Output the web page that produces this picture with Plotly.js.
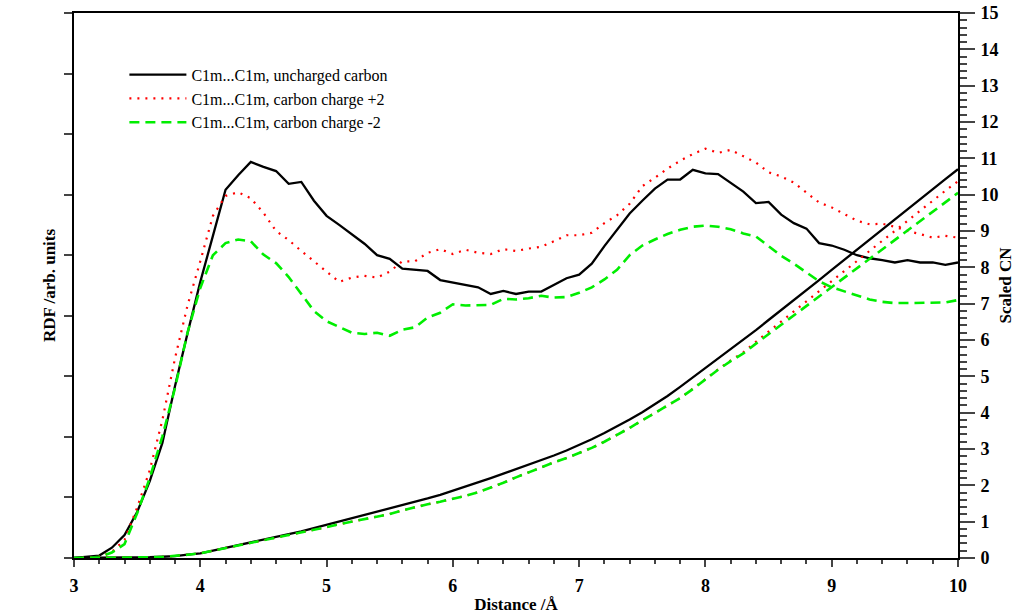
<!DOCTYPE html>
<html>
<head>
<meta charset="utf-8">
<script src="https://cdn.plot.ly/plotly-3.0.1.min.js"></script>
<style>html,body{margin:0;padding:0;background:#fff;}#chart{width:1024px;height:614px;}</style>
</head>
<body>
<div id="chart"></div>
<script>
// Distance grid (Å)
const distance = [3.0,3.1,3.2,3.3,3.4,3.5,3.6,3.7,3.8,3.9,
  4.0,4.1,4.2,4.3,4.4,4.5,4.6,4.7,4.8,4.9,
  5.0,5.1,5.2,5.3,5.4,5.5,5.6,5.7,5.8,5.9,
  6.0,6.1,6.2,6.3,6.4,6.5,6.6,6.7,6.8,6.9,
  7.0,7.1,7.2,7.3,7.4,7.5,7.6,7.7,7.8,7.9,
  8.0,8.1,8.2,8.3,8.4,8.5,8.6,8.7,8.8,8.9,
  9.0,9.1,9.2,9.3,9.4,9.5,9.6,9.7,9.8,9.9,10.0];

// RDF (arb. units, left axis)
const rdfUncharged = [0,0.02,0.04,0.17,0.38,0.76,1.27,1.90,2.84,3.72,
  4.56,5.32,6.08,6.32,6.54,6.46,6.39,6.18,6.21,5.90,
  5.65,5.50,5.35,5.19,5.00,4.94,4.78,4.76,4.74,4.59,
  4.55,4.50,4.47,4.36,4.41,4.36,4.40,4.40,4.51,4.62,
  4.68,4.86,5.15,5.42,5.69,5.90,6.10,6.25,6.25,6.41,
  6.35,6.34,6.19,6.05,5.86,5.88,5.67,5.53,5.44,5.20,
  5.16,5.09,5.00,4.95,4.92,4.88,4.92,4.88,4.88,4.84,4.88];

const rdfPlus2 = [0,0,0.02,0.10,0.30,0.83,1.45,2.28,3.30,4.18,
  4.90,5.65,5.98,6.04,5.94,5.70,5.40,5.25,5.07,4.90,
  4.74,4.56,4.63,4.66,4.63,4.73,4.90,4.90,5.04,5.10,
  5.02,5.09,5.04,5.02,5.10,5.07,5.11,5.14,5.23,5.33,
  5.33,5.37,5.53,5.66,5.85,6.14,6.28,6.43,6.56,6.67,
  6.76,6.69,6.74,6.64,6.53,6.37,6.30,6.20,6.03,5.87,
  5.79,5.68,5.57,5.51,5.52,5.47,5.40,5.35,5.29,5.32,5.29];

const rdfMinus2 = [0,0,0.02,0.09,0.23,0.74,1.32,2.01,2.81,3.73,
  4.46,5.00,5.20,5.26,5.23,5.01,4.87,4.64,4.36,4.08,
  3.91,3.81,3.72,3.70,3.72,3.67,3.77,3.81,3.97,4.05,
  4.19,4.17,4.18,4.18,4.28,4.27,4.29,4.33,4.30,4.31,
  4.38,4.47,4.60,4.76,5.00,5.16,5.26,5.35,5.42,5.47,
  5.49,5.47,5.43,5.36,5.31,5.15,4.99,4.86,4.71,4.57,
  4.47,4.40,4.33,4.27,4.23,4.21,4.21,4.21,4.21,4.22,4.26];

// Scaled coordination number (right axis)
const cnUncharged = [0,0,0,0.005,0.01,0.015,0.02,0.035,0.05,0.09,
  0.13,0.20,0.28,0.36,0.44,0.52,0.59,0.66,0.73,0.82,
  0.91,1.00,1.08,1.18,1.27,1.36,1.45,1.54,1.64,1.74,
  1.85,1.97,2.08,2.20,2.32,2.44,2.57,2.69,2.82,2.96,
  3.11,3.27,3.44,3.62,3.81,4.01,4.23,4.46,4.71,4.97,
  5.23,5.50,5.76,6.00,6.27,6.55,6.82,7.10,7.38,7.65,
  7.93,8.21,8.49,8.76,9.04,9.32,9.59,9.87,10.15,10.43,10.70];

const cnPlus2 = [0,0,0,0,0,0.005,0.02,0.03,0.05,0.09,
  0.13,0.20,0.27,0.34,0.42,0.50,0.57,0.64,0.71,0.78,
  0.85,0.93,1.00,1.08,1.14,1.21,1.31,1.40,1.48,1.55,
  1.62,1.71,1.81,1.93,2.07,2.22,2.36,2.50,2.63,2.75,
  2.88,3.03,3.20,3.38,3.58,3.79,4.00,4.20,4.40,4.66,
  4.93,5.19,5.44,5.66,5.95,6.23,6.51,6.78,7.06,7.34,
  7.62,7.89,8.17,8.45,8.73,9.00,9.28,9.56,9.84,10.11,10.37];

const cnMinus2 = [0,0,0,0,0,0.005,0.02,0.03,0.05,0.09,
  0.13,0.20,0.27,0.34,0.42,0.50,0.57,0.64,0.71,0.78,
  0.85,0.93,1.00,1.08,1.14,1.21,1.31,1.40,1.48,1.55,
  1.62,1.71,1.81,1.93,2.07,2.22,2.36,2.50,2.63,2.75,
  2.88,3.03,3.20,3.38,3.58,3.79,4.00,4.20,4.40,4.65,
  4.92,5.18,5.42,5.63,5.90,6.16,6.42,6.68,6.94,7.20,
  7.46,7.72,7.98,8.24,8.50,8.76,9.02,9.28,9.54,9.80,10.05];

const seriesNames = ['C1m...C1m, uncharged carbon','C1m...C1m, carbon charge +2','C1m...C1m, carbon charge -2'];
const cnTicks = [0,1,2,3,4,5,6,7,8,9,10,11,12,13,14,15];

const styles = [
  {color:'#000000', width:2.3, dash:'solid'},
  {color:'#ff0000', width:2.2, dash:'2px,6px'},
  {color:'#00ee00', width:2.6, dash:'10px,6px'}
];
const rdfs = [rdfUncharged, rdfPlus2, rdfMinus2];
const cns = [cnUncharged, cnPlus2, cnMinus2];

const traces = [];
for (let i = 0; i < 3; i++) {
  traces.push({x:distance, y:rdfs[i], type:'scatter', mode:'lines', name:seriesNames[i],
    legendgroup:'g'+i, line:{color:styles[i].color, width:styles[i].width, dash:styles[i].dash}, yaxis:'y'});
}
for (let i = 0; i < 3; i++) {
  traces.push({x:distance, y:cns[i], type:'scatter', mode:'lines', name:seriesNames[i], showlegend:false,
    legendgroup:'g'+i, line:{color:styles[i].color, width:styles[i].width, dash:styles[i].dash}, yaxis:'y2'});
}

const serif = 'Liberation Serif, Times New Roman, serif';
const layout = {
  width:1024, height:614,
  margin:{l:74, r:66, t:13, b:56},
  paper_bgcolor:'#fff', plot_bgcolor:'#fff',
  font:{family:serif, color:'#000'},
  showlegend:true,
  legend:{x:0.057, y:0.918, xanchor:'left', yanchor:'top', bgcolor:'rgba(0,0,0,0)',
    font:{family:serif, size:16, color:'#000'}, itemwidth:57, tracegroupgap:0},
  xaxis:{range:[3,10], tickmode:'linear', tick0:3, dtick:1, ticks:'outside', ticklen:7, tickwidth:2,
    showline:true, linewidth:2, linecolor:'#000', mirror:true, showgrid:false, zeroline:false,
    minor:{dtick:0.2, ticks:'outside', ticklen:4, tickwidth:2, showgrid:false},
    tickfont:{family:serif, size:18, color:'#000', weight:'bold'}, ticklabelstandoff:3,
    title:{text:'<b>Distance /Å</b>', font:{family:serif, size:17, color:'#000'}, standoff:11}},
  yaxis:{range:[0,9], tickmode:'linear', tick0:0, dtick:1, ticks:'outside', ticklen:8, tickwidth:2,
    showticklabels:false, showline:true, linewidth:2, linecolor:'#000', showgrid:false, zeroline:false,
    title:{text:'<b>RDF /arb. units</b>', font:{family:serif, size:17, color:'#000'}, standoff:4}},
  yaxis2:{range:[0,15], overlaying:'y', side:'right', tickmode:'array', tickvals:cnTicks, ticktext:cnTicks.map(String),
    ticks:'outside', ticklen:15, tickwidth:2, showline:true, linewidth:2, linecolor:'#000', showgrid:false, zeroline:false,
    minor:{dtick:0.2, ticks:'outside', ticklen:7, tickwidth:2, showgrid:false},
    tickfont:{family:serif, size:18, color:'#000', weight:'bold'}, ticklabelstandoff:2,
    title:{text:'<b>Scaled CN</b>', font:{family:serif, size:17, color:'#000'}, standoff:2}}
};

Plotly.newPlot('chart', traces, layout, {displayModeBar:false, staticPlot:true});
</script>
</body>
</html>
